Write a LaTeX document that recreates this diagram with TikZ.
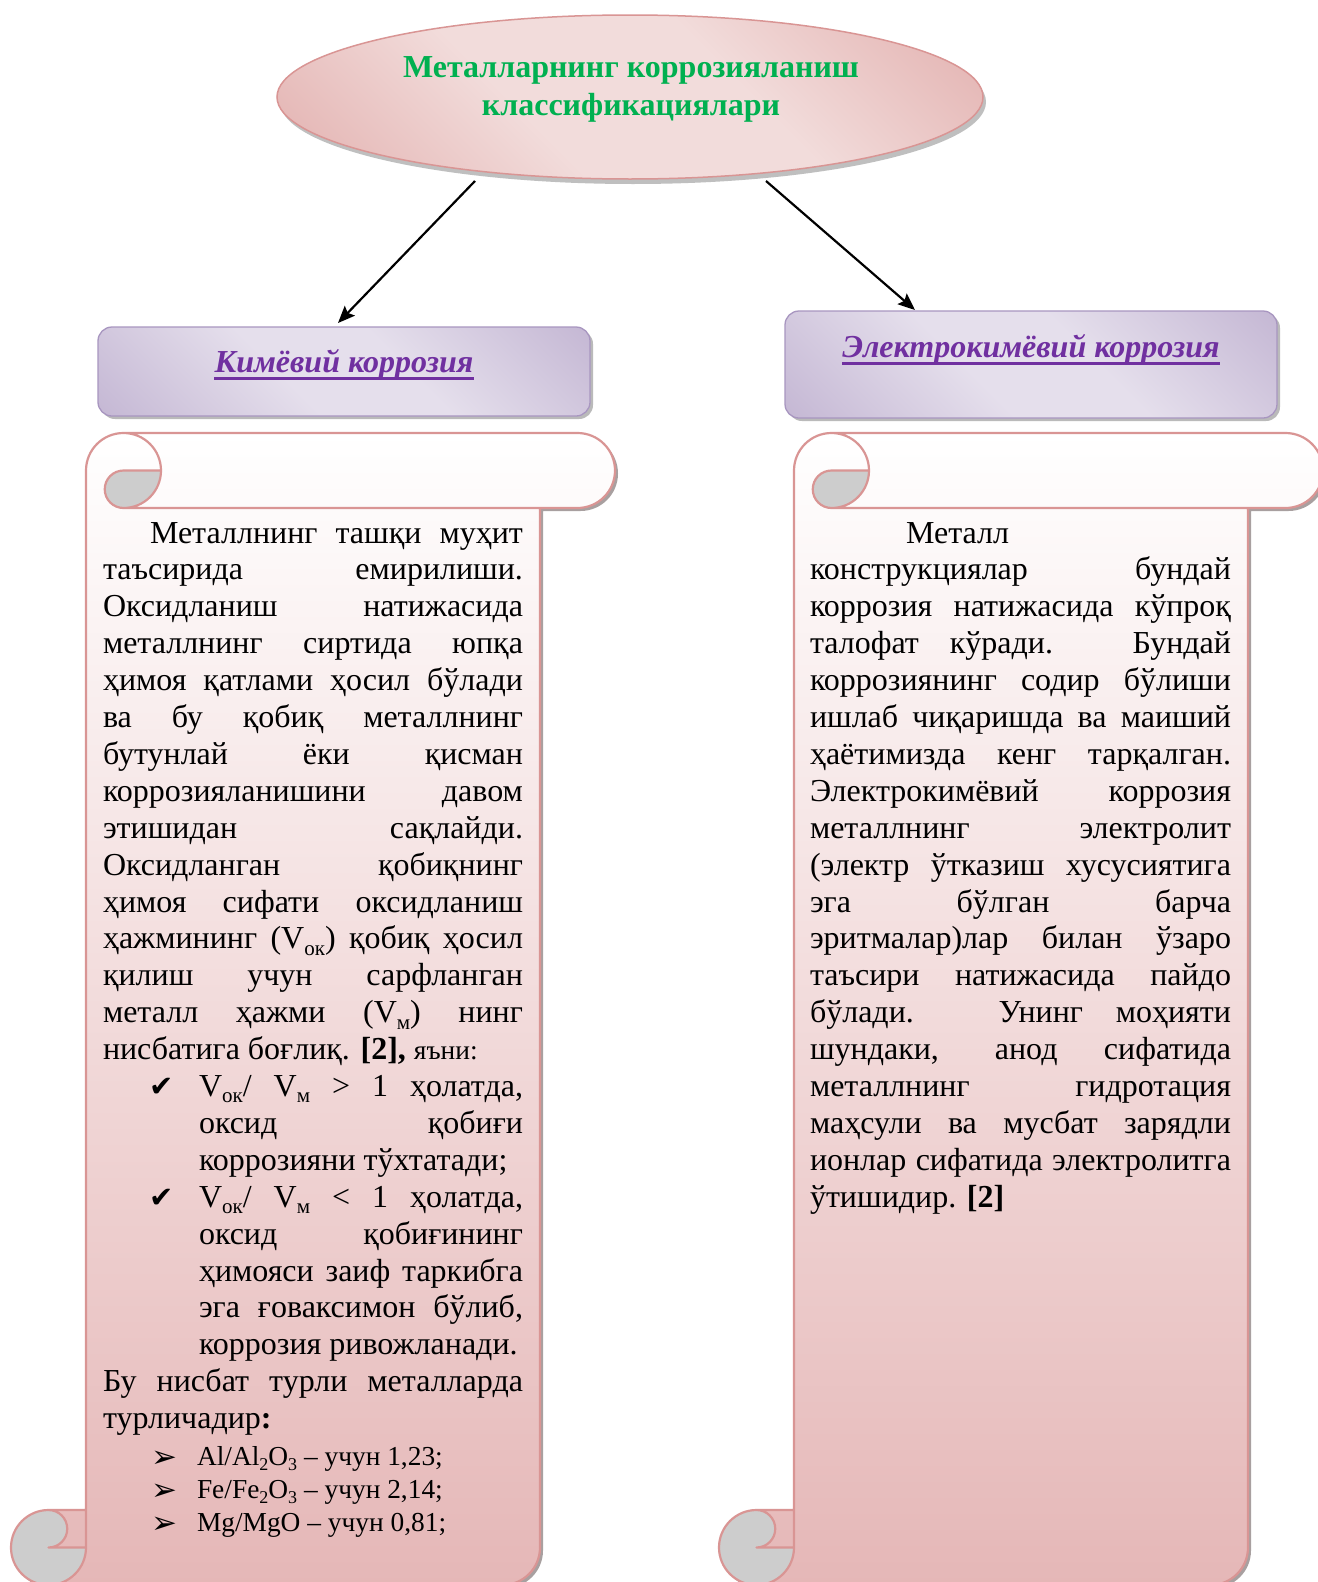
\documentclass[tikz,border=0pt]{standalone}
\usepackage{fontspec}
\setmainfont{Liberation Serif}
\newfontfamily\dejavu{DejaVu Sans}
\usetikzlibrary{shapes.geometric,arrows.meta,shadows}
\definecolor{tgreen}{HTML}{00B050}
\definecolor{tpurple}{HTML}{7030A0}
\definecolor{pdark}{HTML}{B3A2C7}
\definecolor{plight}{HTML}{E5DFEC}
\definecolor{pborder}{HTML}{A896C0}
\definecolor{edark}{HTML}{D99694}
\definecolor{elight}{HTML}{F2DCDB}
\definecolor{eborder}{HTML}{D99594}
\definecolor{scrollc}{HTML}{D99594}
\definecolor{scrollpink}{HTML}{E5B7B7}
\definecolor{curlgrey}{HTML}{CDCDCD}
\definecolor{shadowc}{HTML}{A8A0A0}
\pgfdeclarehorizontalshading{pglass}{100bp}{color(0bp)=(pdark); color(42bp)=(plight); color(58bp)=(plight); color(100bp)=(pdark)}
\pgfdeclarehorizontalshading{eglass}{100bp}{color(0bp)=(edark); color(40bp)=(elight); color(60bp)=(elight); color(100bp)=(edark)}
\newcommand\mainfs{\fontsize{32}{36.9}\selectfont}
\newcommand\smallfs{\fontsize{27.4}{31}\selectfont}
\newcommand\sbs[1]{\raisebox{-0.2em}{\fontsize{21}{21}\selectfont #1}}
\newcommand\sbsS[1]{\raisebox{-0.2em}{\fontsize{18}{18}\selectfont #1}}
\newcommand\drawscroll[4]{%
 \pgfmathsetmacro\xA{#1+37.5}\pgfmathsetmacro\xB{#1+75}\pgfmathsetmacro\xC{#1+112.5}\pgfmathsetmacro\xD{#1+150}%
 \pgfmathsetmacro\xE{#3-75}\pgfmathsetmacro\xF{#3-37.5}\pgfmathsetmacro\xG{#3-112.5}%
 \pgfmathsetmacro\yT{-#2}\pgfmathsetmacro\yTh{-#2-37.5}\pgfmathsetmacro\yTc{-#2-75}%
 \pgfmathsetmacro\yB{-#4}\pgfmathsetmacro\yBh{-#4+37.5}\pgfmathsetmacro\yBc{-#4+75}%
 % shadow
 \fill[shadowc, xshift=3pt, yshift=-3pt] (\xB,\yBc) -- (\xB,\yTh) arc[start angle=180,delta angle=-90,radius=37.5] -- (\xF,\yT) arc[start angle=90,delta angle=-180,radius=37.5] -- (\xE,\yTc) -- (\xE,\yBh) arc[start angle=0,delta angle=-90,radius=37.5] -- (\xA,\yB) arc[start angle=-90,delta angle=-180,radius=37.5] -- cycle;
 \fill[shadowc, xshift=3pt, yshift=-3pt] (\xA,\yBh) circle[radius=37.5];
 % body
 \path[top color=white, bottom color=scrollpink] (\xB,\yBc) -- (\xB,\yTh) arc[start angle=180,delta angle=-90,radius=37.5] -- (\xF,\yT) arc[start angle=90,delta angle=-180,radius=37.5] -- (\xE,\yTc) -- (\xE,\yBh) arc[start angle=0,delta angle=-90,radius=37.5] -- (\xA,\yB) arc[start angle=-90,delta angle=90,radius=37.5] -- (\xA,\yBh) -- (\xA,\yBc) -- cycle;
 % grey curls
 \fill[curlgrey] (\xD,\yTh) arc[start angle=0,delta angle=-90,radius=37.5] arc[start angle=-90,delta angle=-180,radius=18.75] -- cycle;
 \fill[curlgrey] (\xB,\yBh) arc[start angle=0,delta angle=-270,radius=37.5] arc[start angle=90,delta angle=-180,radius=18.75] -- cycle;
 % outline
 \draw[scrollline] (\xB,\yBc) -- (\xB,\yTh) arc[start angle=180,delta angle=-90,radius=37.5] -- (\xF,\yT) arc[start angle=90,delta angle=-180,radius=37.5] -- (\xE,\yTc) -- (\xE,\yBh) arc[start angle=0,delta angle=-90,radius=37.5] -- (\xA,\yB) arc[start angle=-90,delta angle=-180,radius=37.5] -- cycle
  (\xC,\yT) arc[start angle=90,delta angle=-180,radius=37.5] arc[start angle=-90,delta angle=-180,radius=18.75] -- (\xD,\yTh)
  (\xE,\yTc) -- (\xC,\yTc)
  (\xA,\yBc) arc[start angle=90,delta angle=-180,radius=18.75] -- (\xB,\yBh)
  (\xA,\yB) arc[start angle=-90,delta angle=90,radius=37.5] -- (\xB,\yBc);
}
\tikzset{
 scrollline/.style={draw=scrollc, line width=2.2pt, line join=round},
 txt/.style={anchor=base west, inner sep=0pt, outer sep=0pt, font=\mainfs},
 pbox/.style={rounded corners=14pt, draw=pborder, line width=1.3pt, shading=pglass, shading angle=45, inner sep=0pt,
   drop shadow={shadow xshift=3pt, shadow yshift=-3pt, fill=black!45, opacity=0.6}},
 lab/.style={anchor=base, inner sep=0pt, text=tpurple, font=\bfseries\itshape\fontsize{32}{36}\selectfont},
 ell/.style={ellipse, draw=eborder, line width=1.5pt, shading=eglass, shading angle=45, inner sep=0pt,
   minimum width=706pt, minimum height=164pt,
   drop shadow={shadow xshift=3pt, shadow yshift=-5pt, fill=black!45, opacity=0.55}},
 ttl/.style={anchor=base, inner sep=0pt, text=tgreen, font=\bfseries\fontsize{32}{38}\selectfont},
 arr/.style={-{Stealth[length=17pt,width=14pt,inset=3pt]}, line width=2.2pt, black},
 ulin/.style={tpurple, line width=2.3pt},
 bulletmark/.style={anchor=base west, inner sep=0pt},
 checkmk/.style={bulletmark, font=\dejavu\fontsize{29}{29}\selectfont},
 arrowmk/.style={bulletmark, font=\dejavu\fontsize{31}{31}\selectfont},
}
\begin{document}
\begin{tikzpicture}[x=1pt,y=1pt]
\fill[white] (0,0) rectangle (1317,-1582);
\useasboundingbox (0,0) rectangle (1317,-1582);

% title ellipse
\node[ell] (title) at (630,-97) {};
\node[ttl] (t1) at (631,-77) {Металларнинг коррозияланиш};
\node[ttl] (t2) at (631,-115) {классификациялари};

% boxes
\node[pbox, minimum width=492pt, minimum height=89pt] (boxL) at (344,-371.5) {};
\node[pbox, minimum width=492pt, minimum height=107pt] (boxR) at (1031,-364.5) {};
\node[lab] (labL) at (344,-372) {Кимёвий коррозия};
\node[lab] (labR) at (1031,-357) {Электрокимёвий коррозия};
\draw[ulin] ([yshift=-6.5pt]labL.base west) -- ([yshift=-6.5pt]labL.base east);
\draw[ulin] ([yshift=-6.5pt]labR.base west) -- ([yshift=-6.5pt]labR.base east);

% arrows
\coordinate (s1) at (475,-181);
\coordinate (e1) at (338,-323);
\coordinate (s2) at (766,-181);
\coordinate (e2) at (915,-310);
\draw[arr] (s1) -- (e1);
\draw[arr] (s2) -- (e2);

% scrolls
\drawscroll{11}{433}{615}{1585}
\drawscroll{719}{433}{1323}{1585}

% left text
\node[txt] (L1) at (150,-543) {\makebox[373pt][s]{Металлнинг ташқи муҳит}};
\foreach \myline [count=\i from 2] in {{таъсирида емирилиши.},{Оксидланиш натижасида},{металлнинг сиртида юпқа},{ҳимоя қатлами ҳосил бўлади},{ва бу қобиқ металлнинг},{бутунлай ёки қисман},{коррозияланишини давом},{этишидан сақлайди.},{Оксидланган қобиқнинг},{ҳимоя сифати оксидланиш},{ҳажмининг (V\sbs{ок}) қобиқ ҳосил},{қилиш учун сарфланган},{металл ҳажми (V\sbs{м}) нинг}}{
  \pgfmathsetmacro\yy{-(543+(\i-1)*36.9)}
  \node[txt] (L\i) at (103,\yy) {\makebox[420pt][s]{\myline}};
}
\node[txt] (L15) at (103,-1059.6) {нисбатига боғлиқ. \textbf{[2],} {\smallfs яъни:}};
\node[checkmk] (ck1) at (149,-1096.5) {✔};
\node[txt] (L16) at (199,-1096.5) {\makebox[324pt][s]{V\sbs{ок}/ V\sbs{м} > 1 ҳолатда,}};
\node[txt] (L17) at (199,-1133.4) {\makebox[324pt][s]{оксид қобиғи}};
\node[txt] (L18) at (199,-1170.3) {коррозияни тўхтатади;};
\node[checkmk] (ck2) at (149,-1207.2) {✔};
\node[txt] (L19) at (199,-1207.2) {\makebox[324pt][s]{V\sbs{ок}/ V\sbs{м} < 1 ҳолатда,}};
\node[txt] (L20) at (199,-1244.1) {\makebox[324pt][s]{оксид қобиғининг}};
\node[txt] (L21) at (199,-1281.0) {\makebox[324pt][s]{ҳимояси заиф таркибга}};
\node[txt] (L22) at (199,-1317.9) {\makebox[324pt][s]{эга ғоваксимон бўлиб,}};
\node[txt] (L23) at (199,-1354.8) {коррозия ривожланади.};
\node[txt] (L24) at (103,-1391.7) {\makebox[420pt][s]{Бу нисбат турли металларда}};
\node[txt] (L25) at (103,-1428.6) {турличадир\textbf{:}};
\node[arrowmk] (ar1) at (151,-1467) {➢};
\node[arrowmk] (ar2) at (151,-1500) {➢};
\node[arrowmk] (ar3) at (151,-1533) {➢};
\node[txt, font=\smallfs] (M1) at (197,-1465) {Al/Al\sbsS{2}O\sbsS{3} – учун 1,23;};
\node[txt, font=\smallfs] (M2) at (197,-1498) {Fe/Fe\sbsS{2}O\sbsS{3} – учун 2,14;};
\node[txt, font=\smallfs] (M3) at (197,-1531) {Mg/MgO – учун 0,81;};

% right text
\node[txt] (R1) at (906,-543) {Металл};
\foreach \myline [count=\i from 2] in {{конструкциялар бундай},{коррозия натижасида кўпроқ},{талофат кўради. Бундай},{коррозиянинг содир бўлиши},{ишлаб чиқаришда ва маиший},{ҳаётимизда кенг тарқалган.},{Электрокимёвий коррозия},{металлнинг электролит},{(электр ўтказиш хусусиятига},{эга бўлган барча},{эритмалар)лар билан ўзаро},{таъсири натижасида пайдо},{бўлади. Унинг моҳияти},{шундаки, анод сифатида},{металлнинг гидротация},{маҳсули ва мусбат зарядли},{ионлар сифатида электролитга}}{
  \pgfmathsetmacro\yy{-(543+(\i-1)*36.9)}
  \node[txt] (R\i) at (810,\yy) {\makebox[421pt][s]{\myline}};
}
\node[txt] (R19) at (810,-1207.2) {ўтишидир. \textbf{[2]}};
\end{tikzpicture}
\end{document}
